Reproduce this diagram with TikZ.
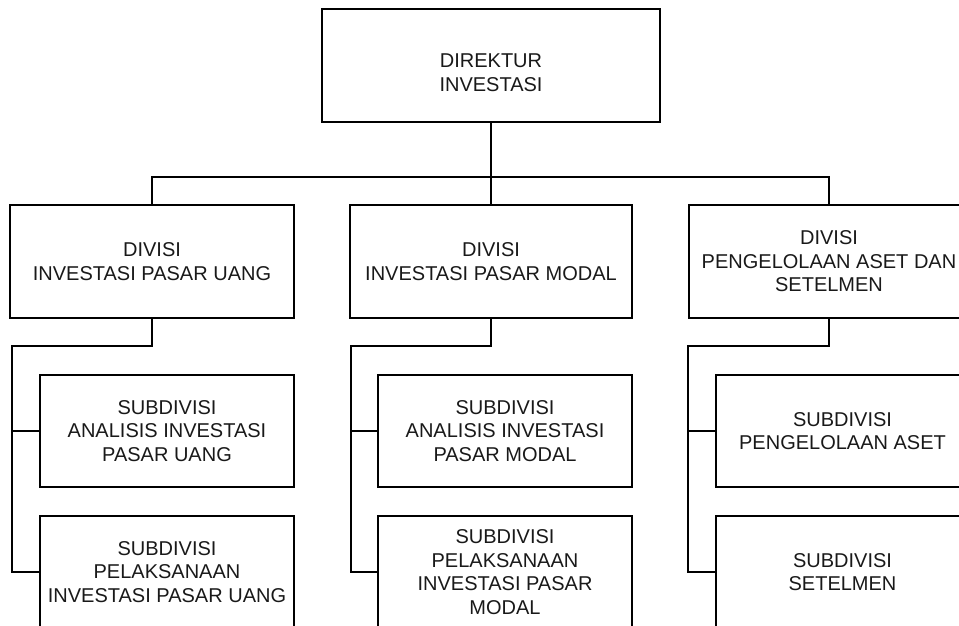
\documentclass[tikz,border=0pt]{standalone}
\usepackage{fontspec}
\setmainfont{Liberation Sans}
\begin{document}
\begin{tikzpicture}[x=1pt,y=-1pt,
  box/.style={draw, line width=1.1pt, inner sep=0pt, align=center,
    font=\fontsize{20}{23.6}\selectfont, text=black!90},
  lbl/.style={inner sep=0pt, align=center,
    font=\fontsize{20}{23.6}\selectfont, text=black!90},
  conn/.style={line width=1.1pt}]
\useasboundingbox (0,0) rectangle (959,625);
\clip (0,0) rectangle (959,625);
% top
\node[box, minimum width=338pt, minimum height=113pt] (dir) at (491,65.5) {};
\node[lbl] (dirt) at (491,72.5) {DIREKTUR\\INVESTASI};
% divisions
\node[box, minimum width=284pt, minimum height=113pt] (d1) at (152,261.5) {DIVISI\\INVESTASI PASAR UANG};
\node[box, minimum width=282pt, minimum height=113pt] (d2) at (491,261.5) {DIVISI\\INVESTASI PASAR MODAL};
\node[box, minimum width=280pt, minimum height=113pt] (d3) at (829,261.5) {DIVISI\\PENGELOLAAN ASET DAN\\SETELMEN};
% subdivisions
\node[box, minimum width=254pt, minimum height=112pt] (s11) at (167,431) {SUBDIVISI\\ANALISIS INVESTASI\\PASAR UANG};
\node[box, minimum width=254pt, minimum height=112pt] (s12) at (167,572) {SUBDIVISI\\PELAKSANAAN\\INVESTASI PASAR UANG};
\node[box, minimum width=254pt, minimum height=112pt] (s21) at (505,431) {SUBDIVISI\\ANALISIS INVESTASI\\PASAR MODAL};
\node[box, minimum width=254pt, minimum height=112pt] (s22) at (505,572) {SUBDIVISI\\PELAKSANAAN\\INVESTASI PASAR\\MODAL};
\node[box, minimum width=253pt, minimum height=112pt] (s31) at (842.5,431) {SUBDIVISI\\PENGELOLAAN ASET};
\node[box, minimum width=253pt, minimum height=112pt] (s32) at (842.5,572) {SUBDIVISI\\SETELMEN};
% connectors
\coordinate (bus) at (491,177);
\draw[conn] (dir.south) -- (d2.north);
\draw[conn] (d1.north) |- (bus) -| (d3.north);
\coordinate (b1) at (12,346);
\coordinate (b2) at (351,346);
\coordinate (b3) at (688,346);
\draw[conn] (d1.south) |- (b1) -- (b1 |- s12.west) -- (s12.west);
\draw[conn] (b1 |- s11.west) -- (s11.west);
\draw[conn] (d2.south) |- (b2) -- (b2 |- s22.west) -- (s22.west);
\draw[conn] (b2 |- s21.west) -- (s21.west);
\draw[conn] (d3.south) |- (b3) -- (b3 |- s32.west) -- (s32.west);
\draw[conn] (b3 |- s31.west) -- (s31.west);
\end{tikzpicture}
\end{document}
